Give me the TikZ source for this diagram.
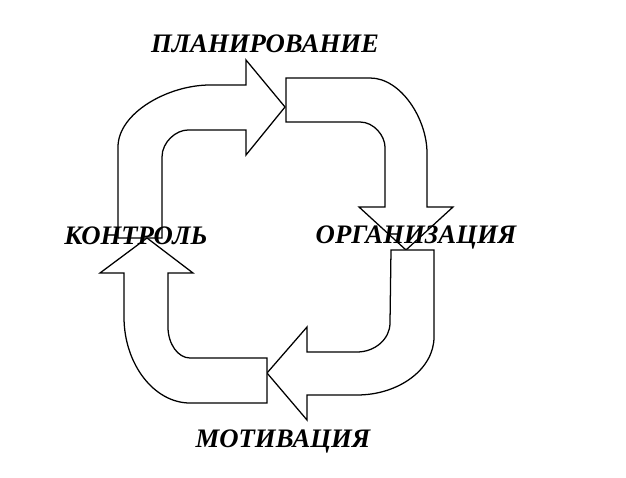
\documentclass[tikz,border=0pt]{standalone}
\usepackage{fontspec}
\setmainfont{Liberation Serif}
\usetikzlibrary{positioning}

\begin{document}
\begin{tikzpicture}[x=0.025cm, y=-0.025cm,
    blockarrow/.style={draw, line width=0.9pt, fill=white, line join=miter},
    stage/.style={font=\fontsize{19}{22}\selectfont\bfseries\itshape, inner sep=0pt, anchor=base}]
    \useasboundingbox (0,0) rectangle (626,478);

    % top-left part, arrow to the right
    \path[blockarrow] (118,238) -- (118,147) .. controls (118,113) and (168,85) .. (210,85)
        -- (246,85) -- (246,60) -- (285,107) -- (246,155) -- (246,130) -- (188,130)
        .. controls (176,130) and (162,142) .. (162,157) -- (162,238) -- cycle;

    % top-right part, arrow down
    \path[blockarrow] (286,78) -- (370,78) .. controls (401,78) and (427,119) .. (427,153)
        -- (427,207) -- (453,207) -- (406,250) -- (359,207) -- (385,207) -- (385,147)
        .. controls (385,136) and (374,122) .. (360,122) -- (286,122) -- cycle;

    % bottom-right part, arrow to the left
    \path[blockarrow] (391,250) -- (434,250) -- (434,337) .. controls (434,369) and (399,395) .. (357,395)
        -- (307,395) -- (307,420) -- (267,373) -- (307,327) -- (307,352) -- (357,352)
        .. controls (375,352) and (390,339) .. (390,323) -- cycle;

    % bottom-left part, arrow up
    \path[blockarrow] (267,358) -- (190,358) .. controls (178,358) and (168,344) .. (168,327)
        -- (168,273) -- (193,273) -- (147,238) -- (100,273) -- (124,273) -- (124,317)
        .. controls (124,364) and (154,403) .. (190,403) -- (267,403) -- cycle;

    \node[stage] (plan) at (265,53) {ПЛАНИРОВАНИЕ};
    \node[stage] (org) at (416,244) {ОРГАНИЗАЦИЯ};
    \node[stage] (motiv) at (283,448) {МОТИВАЦИЯ};
    \node[stage] (ctrl) at (136,245) {КОНТРОЛЬ};
\end{tikzpicture}
\end{document}
